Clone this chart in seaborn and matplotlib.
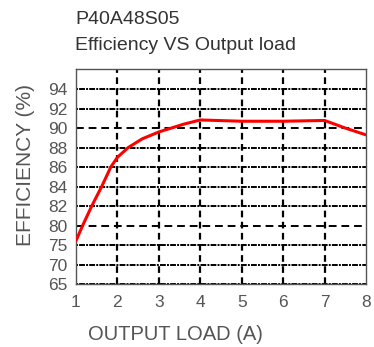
import numpy as np
import matplotlib
matplotlib.use("Agg")
import matplotlib.pyplot as plt
import seaborn as sns
import pandas as pd

# Data
load_a = [1.0, 1.16, 1.38, 1.62, 1.84, 2.0, 2.26, 2.6, 3.0, 3.3, 3.6, 4.0, 5.0, 6.0, 7.0, 7.5, 8.0]
efficiency = [76.1, 80.0, 82.0, 84.0, 86.0, 87.0, 88.0, 88.9, 89.6, 90.0, 90.4, 90.83, 90.7, 90.7, 90.78, 90.0, 89.3]
y_tick_labels = [65, 70, 75, 80, 82, 84, 86, 88, 90, 92, 94]
x_ticks = [1, 2, 3, 4, 5, 6, 7, 8]
dashed_levels = [80, 90]

sns.set_theme(style="white")
plt.rcParams['font.family'] = ['Liberation Sans', 'DejaVu Sans']

# Non-uniform y scale: each labelled value equally spaced
ypos_ticks = np.arange(len(y_tick_labels))
def yscale(v):
    return np.interp(v, y_tick_labels, ypos_ticks)

df = pd.DataFrame({"load": load_a, "pos": yscale(np.array(efficiency))})

fig = plt.figure(figsize=(3.74, 3.47), dpi=100)
ax = fig.add_axes([76/374, 1 - 284/347, 290/374, 215/347])

for v, p in zip(y_tick_labels, ypos_ticks):
    if v in dashed_levels:
        ax.axhline(p, color="black", lw=1.4, ls=(0, (4, 2.5)), zorder=1)
    else:
        ax.axhline(p, color="black", lw=1.4, ls=(0, (1, 0.6, 3, 0.6)), zorder=1)
for x in x_ticks[1:-1]:
    ax.axvline(x, color="black", lw=1.6, ls=(0, (3, 2)), zorder=1)

sns.lineplot(data=df, x="load", y="pos", ax=ax, color="#ff0000", lw=2.2, zorder=3)

ax.set_xlim(1, 8)
ax.set_ylim(0, 11.03)
ax.set_yticks(ypos_ticks)
ax.set_yticklabels([str(v) for v in y_tick_labels])
ax.set_xticks(x_ticks)
ax.set_xticklabels([str(v) for v in x_ticks])
ax.tick_params(axis="both", length=0, labelsize=12.5, colors="#555555")
ax.tick_params(axis="y", pad=6)
ax.tick_params(axis="x", pad=8)
ax.set_xlabel("")
ax.set_ylabel("")
for s in ax.spines.values():
    s.set_color("#555555")
    s.set_linewidth(1.0)

fig.text(75/374, 1 - 20/347, "P40A48S05", fontsize=14, color="#333333", va="center", ha="left")
fig.text(75/374, 1 - 46/347, "Efficiency VS Output load", fontsize=14, color="#333333", va="center", ha="left")
fig.text(175/374, 1 - 334/347, "OUTPUT LOAD (A)", fontsize=14.5, color="#555555", va="center", ha="center")
fig.text(26/374, 1 - 165/347, "EFFICIENCY (%)", fontsize=15, color="#555555", va="center", ha="center", rotation=90)

fig.savefig("out.png", dpi=100, facecolor="white")
